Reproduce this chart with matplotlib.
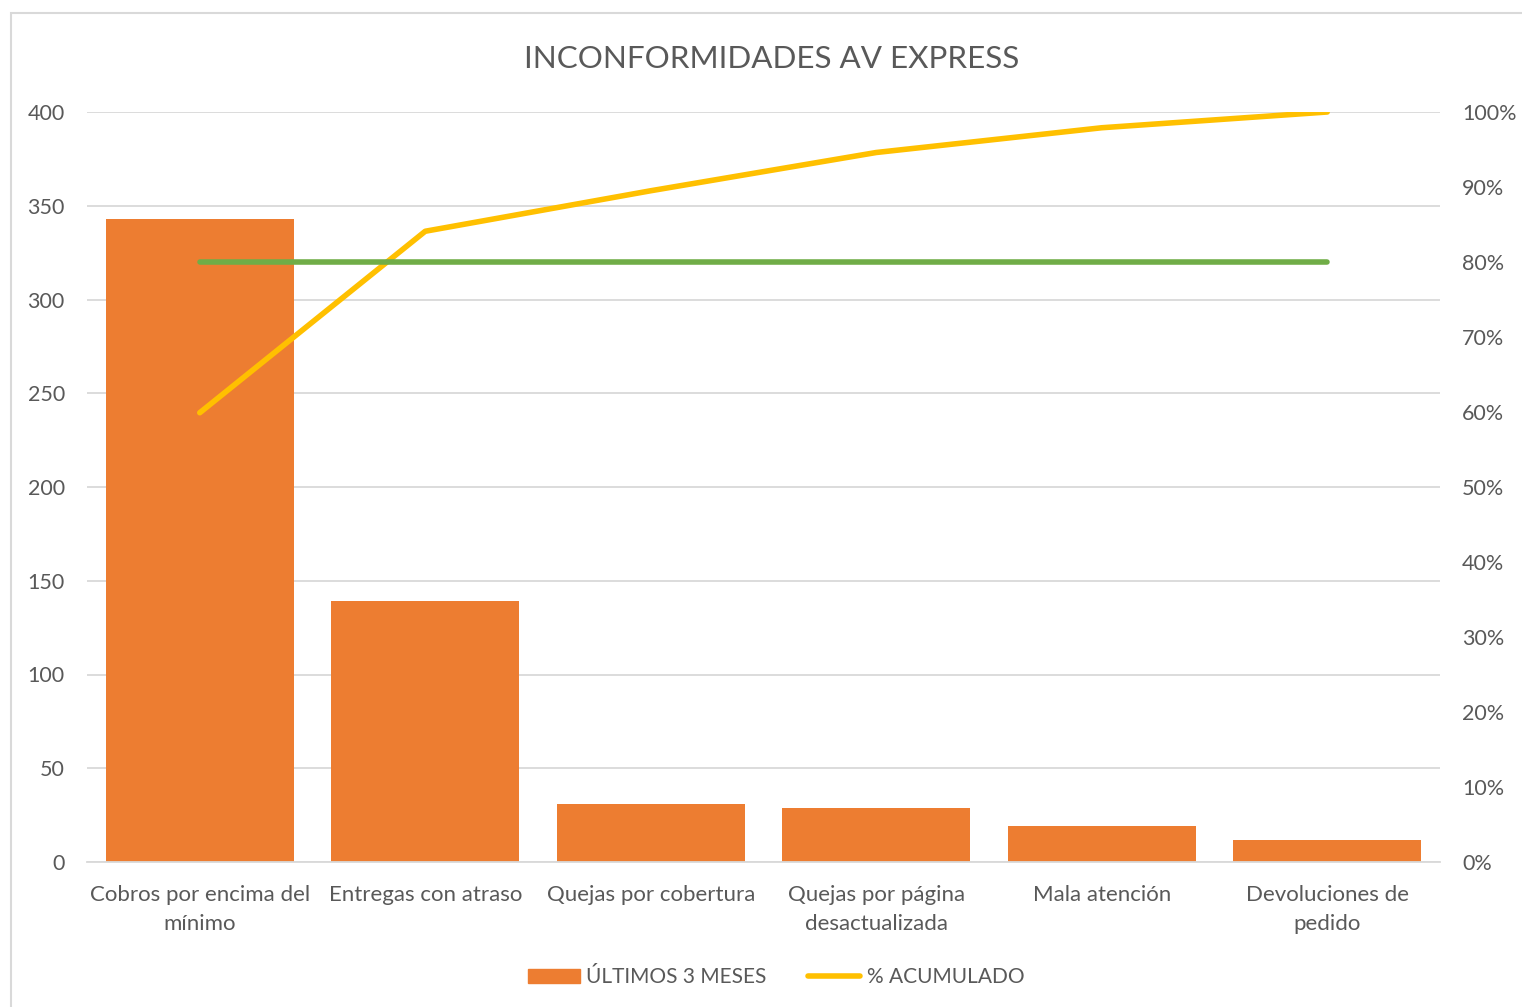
import matplotlib
matplotlib.use("Agg")
import matplotlib.pyplot as plt
from matplotlib.patches import Rectangle
from matplotlib.lines import Line2D
from matplotlib.ticker import FixedLocator

plt.rcParams['font.family'] = ['Lato', 'DejaVu Sans']

categories = ["Cobros por encima del\nmínimo", "Entregas con atraso", "Quejas por cobertura",
              "Quejas por página\ndesactualizada", "Mala atención", "Devoluciones de\npedido"]
ultimos_3_meses = [343, 139, 31, 29, 19, 12]
pct_acumulado = [0.599, 0.841, 0.895, 0.946, 0.979, 1.0]
meta = [0.80] * 6
left_ticks = [0, 50, 100, 150, 200, 250, 300, 350, 400]
right_ticks = [0, 0.1, 0.2, 0.3, 0.4, 0.5, 0.6, 0.7, 0.8, 0.9, 1.0]

TXT = "#595959"
FS = 15.5
fig = plt.figure(figsize=(15.22, 10.07), dpi=100)
fig.patches.append(Rectangle((11/1522, -0.01), 1.02, 1 - 13/1007 + 0.01, transform=fig.transFigure,
                             fill=False, edgecolor="#D9D9D9", linewidth=1.5))

ax = fig.add_axes([87/1522, 1 - 862/1007, (1440 - 87)/1522, (862 - 112)/1007])
x = list(range(len(categories)))
ax.bar(x, ultimos_3_meses, width=0.835, color="#ED7D31", zorder=2)
ax.set_xlim(-0.5, 5.5)
ax.set_ylim(0, 400)
ax.yaxis.set_major_locator(FixedLocator(left_ticks))
ax.set_yticklabels([str(v) for v in left_ticks])
ax.grid(axis="y", color="#D9D9D9", linewidth=1.3, zorder=0)
ax.set_axisbelow(True)
for s in ["top", "right", "left"]:
    ax.spines[s].set_visible(False)
ax.spines["bottom"].set_color("#D9D9D9")
ax.spines["bottom"].set_linewidth(1.3)
ax.tick_params(axis="both", length=0, labelsize=FS, colors=TXT)
ax.tick_params(axis="y", pad=16)
ax.tick_params(axis="x", pad=16.5)
ax.set_xticks(x)
ax.set_xticklabels(categories, linespacing=1.55, fontsize=16)

ax2 = ax.twinx()
ax2.set_ylim(0, 1.0)
ax2.plot(x, pct_acumulado, color="#FFC000", linewidth=4, solid_capstyle="round", zorder=3)
ax2.plot(x, meta, color="#70AD47", linewidth=4, solid_capstyle="round", zorder=3)
ax2.yaxis.set_major_locator(FixedLocator(right_ticks))
ax2.set_yticklabels([f"{int(round(v*100))}%" for v in right_ticks])
ax2.tick_params(axis="y", length=0, labelsize=FS, colors=TXT, pad=16)
for s in ax2.spines.values():
    s.set_visible(False)

fig.text(772/1522, 1 - 59/1007, "INCONFORMIDADES AV EXPRESS", ha="center", va="center",
         fontsize=22.6, color=TXT)

handles = [Rectangle((0, 0), 1, 1, color="#ED7D31"),
           Line2D([0], [0], color="#FFC000", linewidth=4, solid_capstyle="round")]
fig.legend(handles, ["ÚLTIMOS 3 MESES", "% ACUMULADO"], loc="center",
           bbox_to_anchor=(776/1522, 1 - 977/1007), ncol=2, frameon=False,
           fontsize=15, labelcolor=TXT, handlelength=2.5, handleheight=0.65,
           handletextpad=0.3, columnspacing=2.0)

fig.savefig("out.png", dpi=100)
